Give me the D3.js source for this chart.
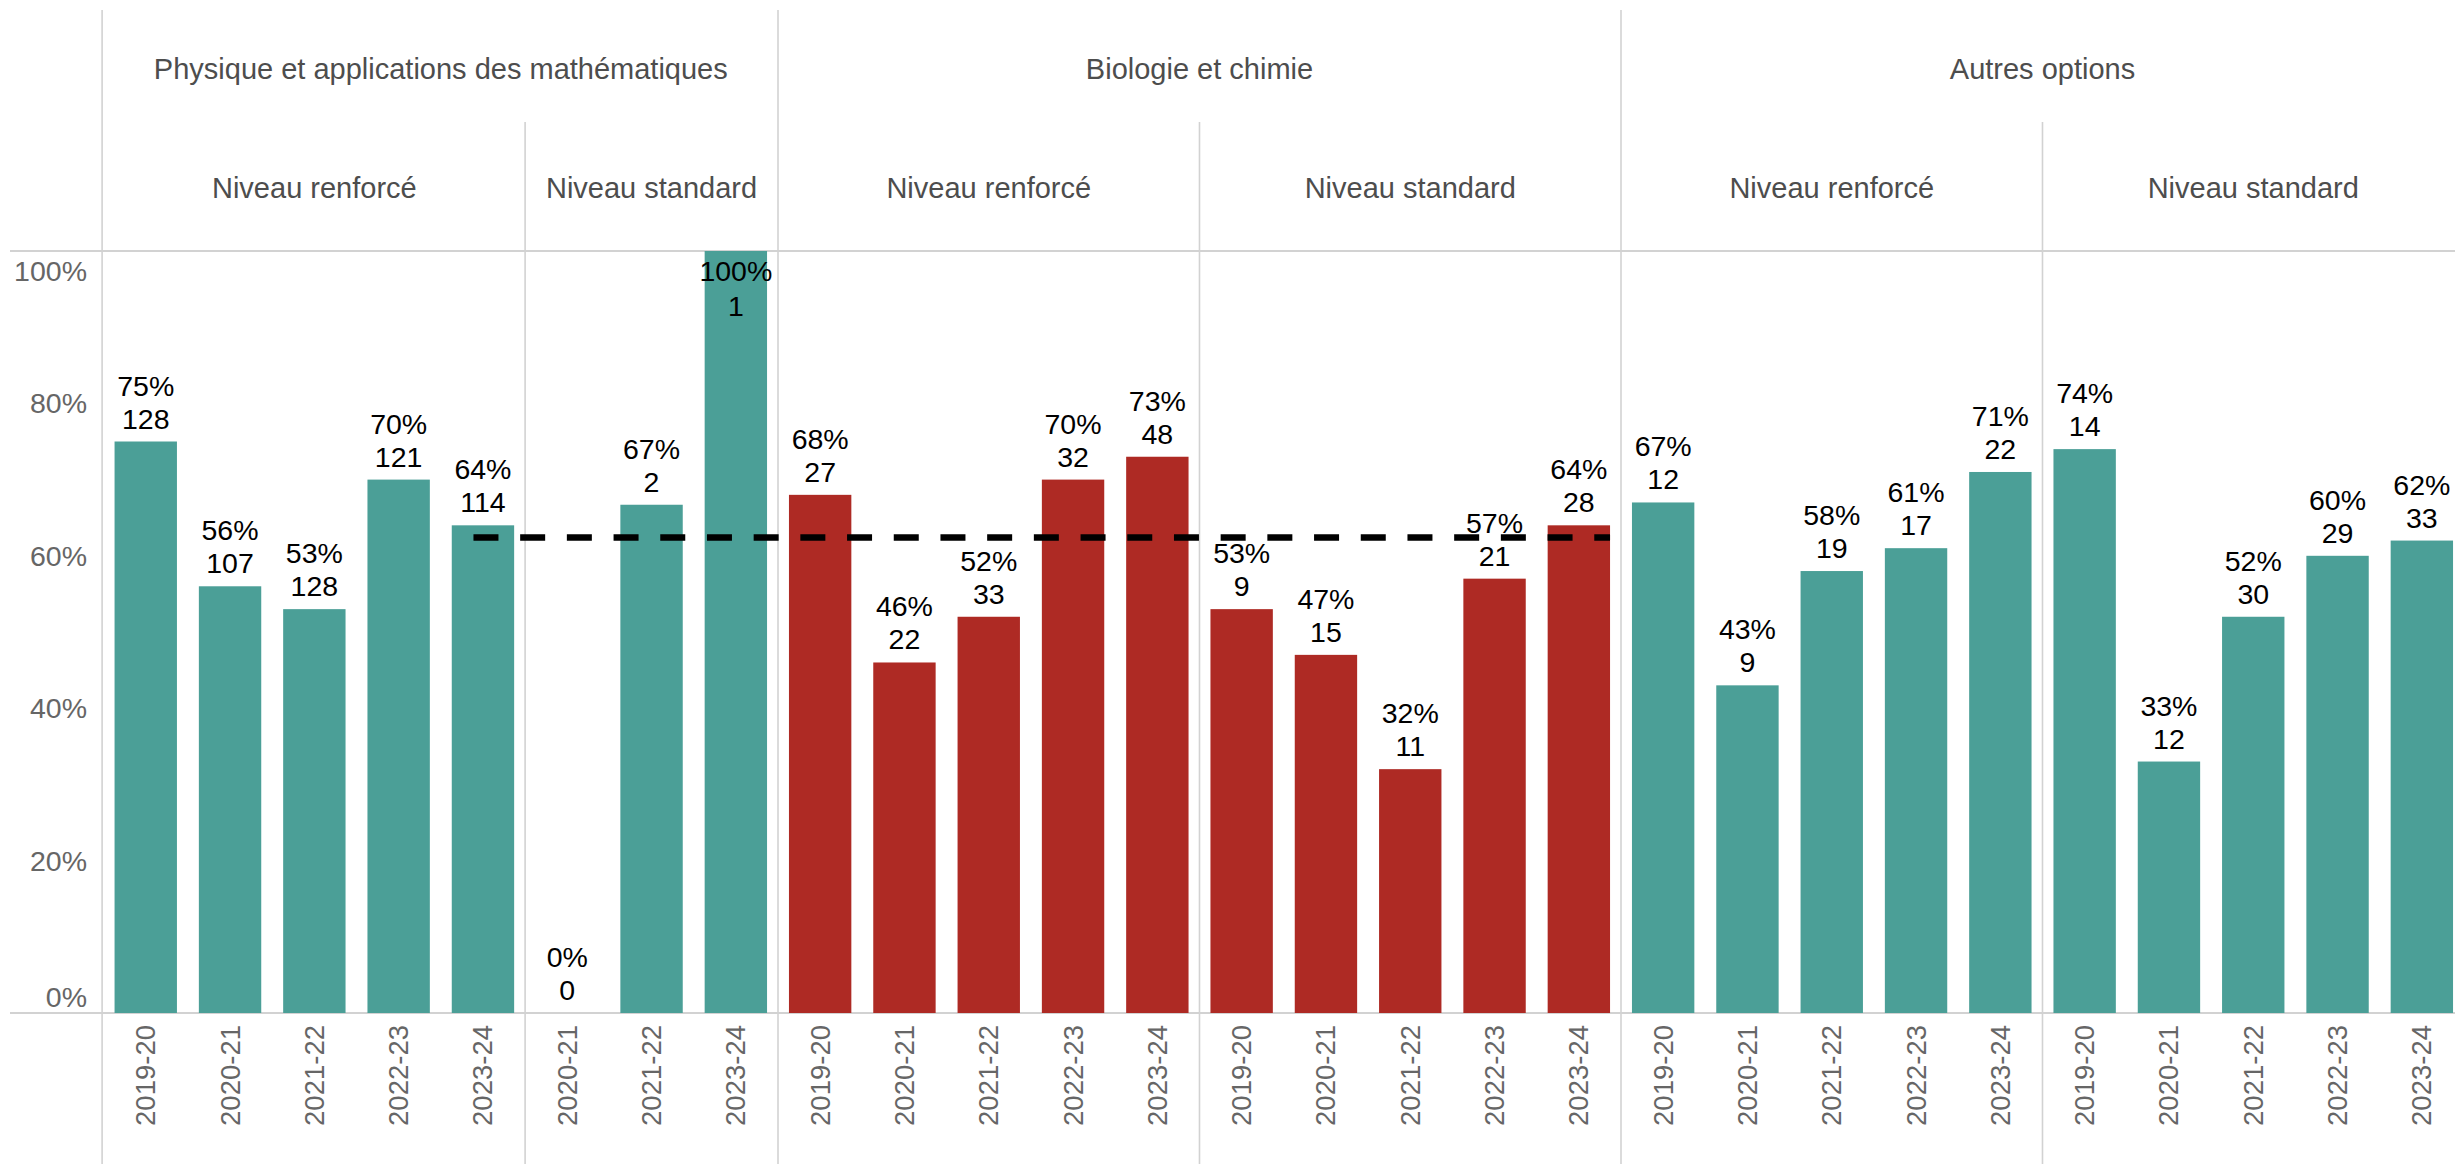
<!DOCTYPE html>
<html>
<head>
<meta charset="utf-8">
<script src="https://cdn.jsdelivr.net/npm/d3@7"></script>
<style>
  html, body { margin: 0; padding: 0; background: #fff; }
  svg { display: block; }
  text { font-family: Arial, "Liberation Sans", sans-serif; }
</style>
</head>
<body>
<svg id="chart" width="2455" height="1164"></svg>
<script>
// ---------- DATA ----------
const groups = ["Physique et applications des mathématiques", "Biologie et chimie", "Autres options"];
const levels = ["Niveau renforcé", "Niveau standard"];
const panelGroup = [0, 0, 1, 1, 2, 2];
const panelLevel = [0, 1, 0, 1, 0, 1];
const panelYears = [
  ["2019-20", "2020-21", "2021-22", "2022-23", "2023-24"],
  ["2020-21", "2021-22", "2023-24"],
  ["2019-20", "2020-21", "2021-22", "2022-23", "2023-24"],
  ["2019-20", "2020-21", "2021-22", "2022-23", "2023-24"],
  ["2019-20", "2020-21", "2021-22", "2022-23", "2023-24"],
  ["2019-20", "2020-21", "2021-22", "2022-23", "2023-24"]
];
const panelRates = [
  [0.75, 0.56, 0.53, 0.70, 0.64],
  [0.00, 0.667, 1.00],
  [0.68, 0.46, 0.52, 0.70, 0.73],
  [0.53, 0.47, 0.32, 0.57, 0.64],
  [0.67, 0.43, 0.58, 0.61, 0.71],
  [0.74, 0.33, 0.52, 0.60, 0.62]
];
const panelCounts = [
  [128, 107, 128, 121, 114],
  [0, 2, 1],
  [27, 22, 33, 32, 48],
  [9, 15, 11, 21, 28],
  [12, 9, 19, 17, 22],
  [14, 12, 30, 29, 33]
];
const yTicks = [0, 0.2, 0.4, 0.6, 0.8, 1.0];
// reference (dashed) line: value and the first / last bar it spans
const refValue = 0.624;
const refFrom = [0, 4];   // panel 0, bar 4
const refTo = [3, 4];     // panel 3, bar 4

// ---------- BUILD ROWS ----------
const rows = [];
panelYears.forEach((yrs, p) => {
  yrs.forEach((yr, i) => {
    rows.push({ key: p + "|" + i, panel: p, year: yr, rate: panelRates[p][i], count: panelCounts[p][i], group: panelGroup[p] });
  });
});

// ---------- LAYOUT ----------
const W = 2455, H = 1164;
const plotTop = 251, plotBottom = 1013;
const xLeft = 103.6, xRight = 2464;
const svg = d3.select("#chart");

const pad = 0.26;
const x = d3.scaleBand().domain(rows.map(d => d.key)).range([xLeft, xRight]).paddingInner(pad).paddingOuter(pad / 2);
const step = x.step();
const y = d3.scaleLinear().domain([0, 1]).range([plotBottom, plotTop]);

const teal = "#4b9f97", red = "#ae2a24";
const colorOf = g => g === 1 ? red : teal;
const gridColor = "#d2d2d2";

// panel boundaries
const panelStart = p => x(p + "|0") - step * pad / 2;
const panelEnd = p => x(p + "|" + (panelYears[p].length - 1)) + x.bandwidth() + step * pad / 2;

// ---------- LINES ----------
const lines = svg.append("g");
[plotTop, plotBottom].forEach(yy => {
  lines.append("line").attr("x1", 10).attr("x2", W).attr("y1", yy).attr("y2", yy)
    .attr("stroke", gridColor).attr("stroke-width", 2);
});
panelYears.forEach((_, p) => {
  const xx = p === 0 ? xLeft - 1.5 : panelStart(p);
  const topLevel = p === 0 || panelGroup[p] !== panelGroup[p - 1];
  lines.append("line").attr("x1", xx).attr("x2", xx)
    .attr("y1", topLevel ? 10 : 122).attr("y2", H)
    .attr("stroke", gridColor).attr("stroke-width", 1.6);
});

// ---------- HEADERS ----------
const hdr = svg.append("g").attr("fill", "#4d4d4d").attr("font-size", 29).attr("text-anchor", "middle");
groups.forEach((g, gi) => {
  const ps = panelGroup.map((v, i) => v === gi ? i : -1).filter(i => i >= 0);
  const x0 = ps[0] === 0 ? xLeft : panelStart(ps[0]);
  const x1 = panelEnd(ps[ps.length - 1]);
  hdr.append("text").attr("x", (x0 + x1) / 2).attr("y", 69).attr("dominant-baseline", "central").text(g);
});
panelYears.forEach((_, p) => {
  const x0 = p === 0 ? xLeft : panelStart(p);
  const x1 = panelEnd(p);
  hdr.append("text").attr("x", (x0 + x1) / 2).attr("y", 188).attr("dominant-baseline", "central").text(levels[panelLevel[p]]);
});

// ---------- Y AXIS LABELS ----------
const fmt = d3.format(".0%");
const ya = svg.append("g").attr("fill", "#666").attr("font-size", 28.5).attr("text-anchor", "end");
yTicks.forEach(t => {
  let yy = y(t);
  if (t === 1) { yy = y(t) + 20; }
  else if (t === 0) { yy = y(t) - 16; }
  ya.append("text").attr("x", 87).attr("y", yy).attr("dominant-baseline", "central").text(fmt(t));
});

// ---------- BARS ----------
svg.append("g").selectAll("rect").data(rows).join("rect")
  .attr("x", d => x(d.key)).attr("width", x.bandwidth())
  .attr("y", d => y(d.rate)).attr("height", d => y(0) - y(d.rate))
  .attr("fill", d => colorOf(d.group));

// ---------- REFERENCE LINE ----------
const refX1 = x(refFrom.join("|"));
const refX2 = x(refTo.join("|")) + x.bandwidth();
svg.append("line").attr("x1", refX1).attr("x2", refX2).attr("y1", y(refValue)).attr("y2", y(refValue))
  .attr("stroke", "#000").attr("stroke-width", 6.5)
  .attr("stroke-dasharray", "25 21.7").attr("stroke-dashoffset", 25);

// ---------- DATA LABELS ----------
const lab = svg.append("g").attr("fill", "#000").attr("font-size", 28.5).attr("text-anchor", "middle");
rows.forEach(d => {
  const cx = x(d.key) + x.bandwidth() / 2;
  let yPct = y(d.rate) - 56, yCnt = y(d.rate) - 23;
  if (yPct < plotTop + 14) { yPct = plotTop + 20; yCnt = plotTop + 55; }
  lab.append("text").attr("x", cx).attr("y", yPct).attr("dominant-baseline", "central").text(fmt(d.rate));
  lab.append("text").attr("x", cx).attr("y", yCnt).attr("dominant-baseline", "central").text(d.count);
});

// ---------- X LABELS (years) ----------
const xl = svg.append("g").attr("fill", "#666").attr("font-size", 27.5).attr("text-anchor", "end");
rows.forEach(d => {
  const cx = x(d.key) + x.bandwidth() / 2;
  xl.append("text").attr("transform", `translate(${cx},1025) rotate(-90)`)
    .attr("dominant-baseline", "central").text(d.year);
});
</script>
</body>
</html>
